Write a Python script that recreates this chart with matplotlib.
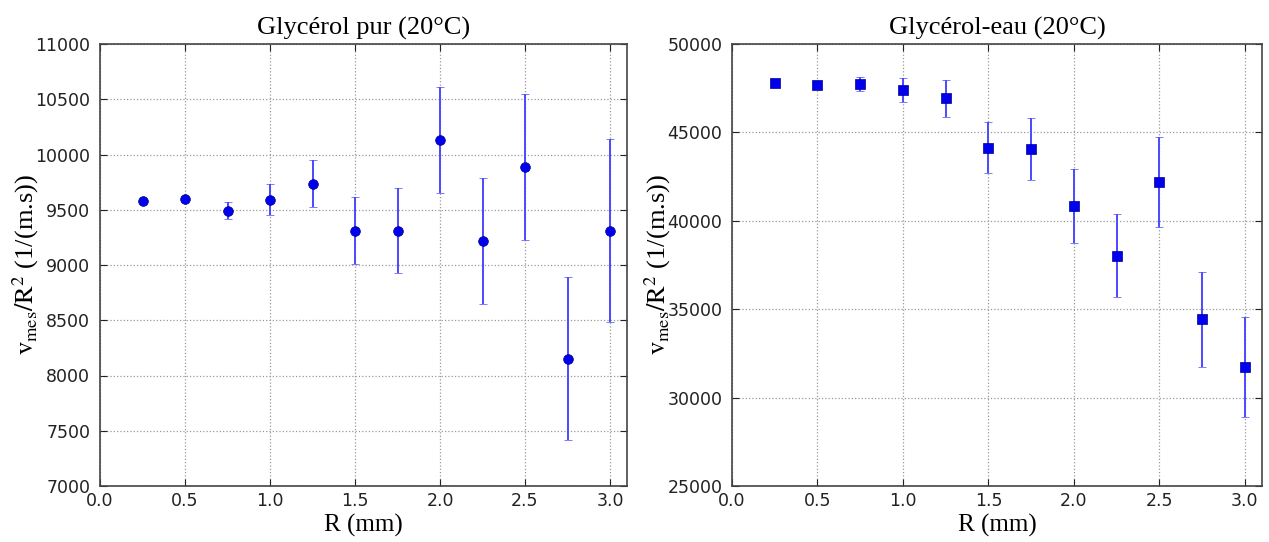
import matplotlib
matplotlib.use("Agg")
import matplotlib.pyplot as plt

# Data
R = [0.25, 0.5, 0.75, 1.0, 1.25, 1.5, 1.75, 2.0, 2.25, 2.5, 2.75, 3.0]

pur_vals = [9583, 9601, 9493, 9592, 9734, 9312, 9312, 10135, 9213, 9885, 8152, 9312]
pur_err = [0, 0, 80, 137, 213, 300, 387, 480, 570, 658, 740, 826]

eau_vals = [47796, 47702, 47739, 47400, 46929, 44122, 44065, 40844, 38018, 42200, 34438, 31725]
eau_err = [0, 0, 390, 680, 1045, 1440, 1770, 2080, 2345, 2525, 2685, 2810]

titles = ["Glycérol pur (20°C)", "Glycérol-eau (20°C)"]
xlabel = "R (mm)"
ylabel = r"$\mathrm{v_{mes}/R^2}$ (1/(m.s))"

plt.rcParams['mathtext.fontset'] = 'stix'
serif = ['Liberation Serif', 'DejaVu Serif']

W, H = 1269, 542
fig = plt.figure(figsize=(W / 100, H / 100), dpi=100)
ax1 = fig.add_axes([100 / W, 56 / H, 527 / W, 442 / H])
ax2 = fig.add_axes([732 / W, 56 / H, 530 / W, 442 / H])

def style(ax, title, ylim, yticks):
    ax.set_xlim(0, 3.1)
    ax.set_ylim(*ylim)
    ax.set_xticks([0.0, 0.5, 1.0, 1.5, 2.0, 2.5, 3.0])
    ax.set_xticklabels(["0.0", "0.5", "1.0", "1.5", "2.0", "2.5", "3.0"])
    ax.set_yticks(yticks)
    ax.grid(True, linestyle=':', color='#999999', linewidth=0.9)
    ax.tick_params(direction='in', top=True, right=True, labelsize=12.5,
                   colors='#222222', length=5)
    ax.tick_params(axis='y', pad=7)
    ax.tick_params(axis='x', pad=4)
    for s in ax.spines.values():
        s.set_color('#444444')
        s.set_linewidth(1.2)
    ax.set_title(title, family=serif, fontsize=19, pad=7)
    ax.set_xlabel(xlabel, family=serif, fontsize=18, labelpad=3)
    ax.set_ylabel(ylabel, family=serif, fontsize=19)
    ax.yaxis.set_label_coords(-0.112, 0.5)

ax1.errorbar(R, pur_vals, yerr=pur_err, fmt='o', color='#0000ee', markersize=7,
             markeredgecolor='#000088', markeredgewidth=0.5,
             ecolor='#4a4aff', elinewidth=1.4, capsize=3, capthick=1.0)
style(ax1, titles[0], (7000, 11000), list(range(7000, 11001, 500)))

ax2.errorbar(R, eau_vals, yerr=eau_err, fmt='s', color='#0000ee', markersize=6.5,
             markeredgecolor='#000088', markeredgewidth=0.5,
             ecolor='#4a4aff', elinewidth=1.4, capsize=3, capthick=1.0)
style(ax2, titles[1], (25000, 50000), list(range(25000, 50001, 5000)))

fig.savefig("out.png", dpi=100)
